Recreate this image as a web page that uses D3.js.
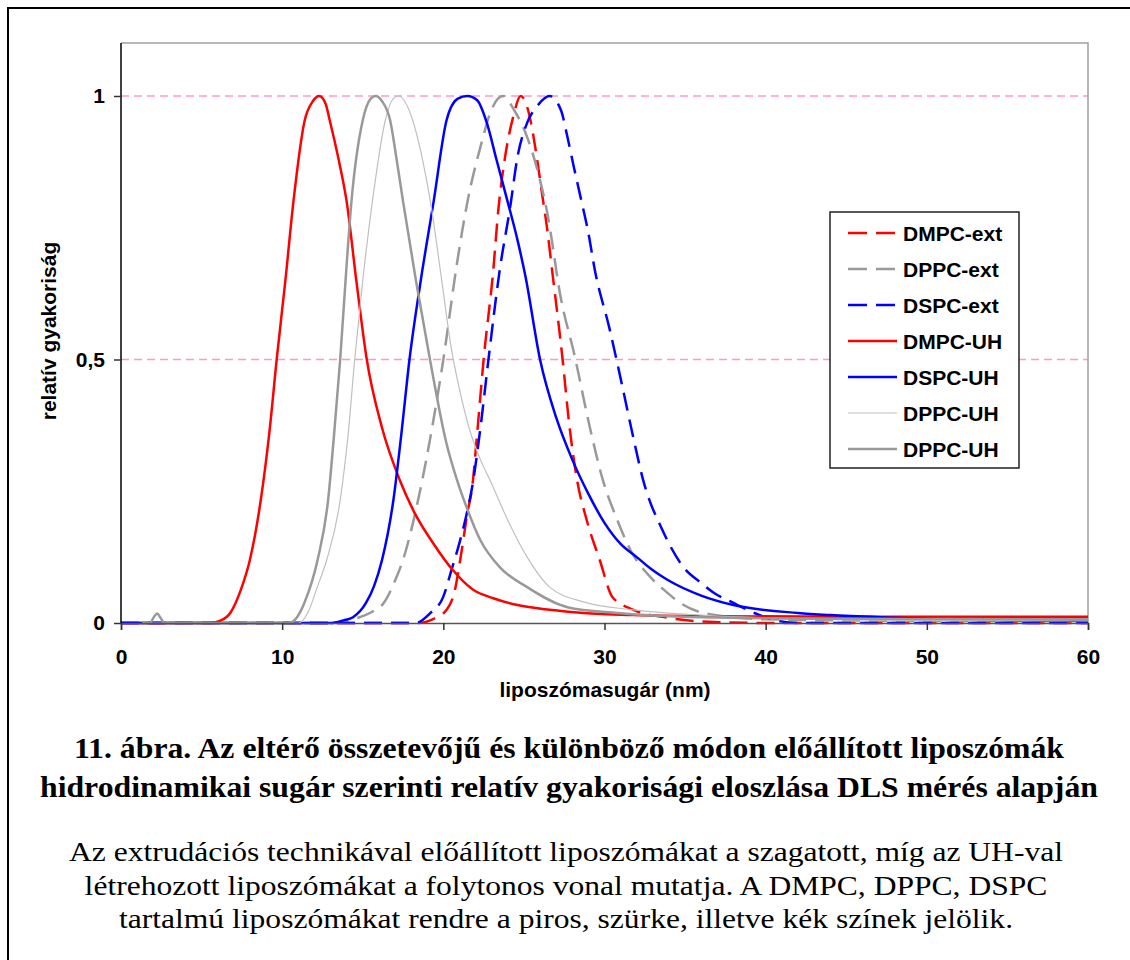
<!DOCTYPE html>
<html><head><meta charset="utf-8">
<script src="https://d3js.org/d3.v7.min.js"></script>
<style>body{margin:0;background:#fff}svg{display:block}</style>
</head><body>
<svg id="c" width="1130" height="960"></svg>
<script>
// ---- data (x = liposzómasugár nm, y = relatív gyakoriság) ----
const DMPC_ext = [[0,0],[18.4,0],[19.4,0.008],[20.2,0.025],[20.7,0.06],[21.1,0.13],[21.5,0.21],[21.8,0.26],[22.1,0.36],[22.5,0.5],[23.1,0.67],[23.4,0.78],[23.83,0.884],[24.33,0.96],[24.8,1],[25.26,0.973],[25.8,0.884],[26.1,0.82],[26.45,0.746],[26.77,0.664],[27.4,0.5],[27.8,0.38],[28.3,0.271],[28.9,0.195],[29.7,0.12],[30.5,0.049],[31.8,0.025],[33.9,0.01],[36,0.003],[40,0],[60,0]];
const DPPC_ext = [[1.3,0],[13.1,0],[14.5,0.008],[15.5,0.02],[16.3,0.038],[17.0,0.08],[17.5,0.12],[18.55,0.25],[19.3,0.37],[20.0,0.5],[20.85,0.683],[21.5,0.8],[22.3,0.903],[23.0,0.975],[23.7,1],[24.4,0.973],[25.2,0.922],[26.0,0.84],[26.45,0.778],[26.8,0.713],[27.1,0.65],[28.2,0.5],[29.1,0.37],[29.9,0.271],[30.8,0.195],[31.6,0.139],[32.85,0.087],[33.8,0.06],[34.8,0.036],[36.3,0.018],[40,0.007],[50,0.004],[60,0.004]];
const DSPC_ext = [[0,0],[18.3,0],[19.2,0.019],[20.0,0.05],[20.5,0.1],[21.0,0.152],[21.5,0.214],[21.8,0.26],[22.3,0.37],[22.8,0.5],[23.5,0.67],[24.15,0.79],[24.6,0.884],[25.2,0.949],[25.8,0.98],[26.6,1],[27.3,0.973],[27.7,0.922],[28.1,0.865],[28.5,0.81],[29.0,0.74],[29.4,0.67],[30.3,0.56],[31.1,0.45],[31.8,0.35],[32.4,0.271],[33.6,0.176],[34.9,0.106],[36,0.076],[36.8,0.057],[38,0.038],[39.3,0.019],[40.5,0.006],[42,0],[60,0]];
const DMPC_UH = [[0,0],[5.5,0],[6.2,0.005],[6.8,0.02],[7.4,0.06],[8,0.12],[8.67,0.233],[9.2,0.36],[9.66,0.5],[10.2,0.65],[10.7,0.8],[11.4,0.954],[11.9,0.99],[12.3,1],[12.7,0.985],[12.95,0.954],[13.5,0.88],[14.0,0.8],[14.6,0.65],[15.25,0.5],[16.2,0.37],[17.3,0.271],[18.2,0.21],[19.4,0.15],[20.6,0.1],[21.85,0.063],[23.1,0.047],[24.6,0.034],[26.6,0.025],[28.7,0.019],[31.8,0.015],[36,0.013],[45,0.012],[60,0.012]];
const DSPC_UH = [[0,0],[13.0,0],[13.8,0.005],[14.4,0.011],[15.2,0.038],[15.7,0.07],[16.2,0.12],[16.9,0.233],[17.4,0.36],[17.9,0.5],[18.6,0.65],[19.4,0.8],[20.2,0.954],[20.9,0.995],[21.5,1],[22.1,0.992],[22.7,0.949],[23.3,0.879],[23.96,0.803],[24.6,0.727],[25.1,0.657],[26.0,0.5],[27.0,0.39],[28.0,0.31],[29.0,0.245],[30.0,0.19],[31.0,0.15],[32.0,0.125],[33.0,0.1],[33.9,0.082],[36,0.052],[38,0.034],[42,0.019],[44,0.015],[48,0.01],[52,0.006],[60,0.004]];
const DPPC_UH_light = [[1.3,0],[11.0,0],[11.6,0.02],[12.2,0.07],[12.77,0.12],[13.6,0.233],[14.1,0.36],[14.5,0.5],[15.0,0.65],[15.6,0.8],[16.4,0.954],[16.9,0.995],[17.25,1],[17.6,0.99],[18.1,0.954],[18.75,0.873],[19.3,0.78],[19.9,0.65],[20.5,0.52],[21.1,0.43],[21.6,0.37],[22.3,0.31],[22.9,0.271],[24.0,0.195],[25.2,0.125],[26.6,0.068],[28.7,0.04],[31.8,0.025],[36,0.015],[42,0.008],[50,0.005],[60,0.004]];
const DPPC_UH_dark = [[1.3,0],[1.8,0],[2.05,0.012],[2.25,0.018],[2.45,0.01],[2.7,0],[10.4,0],[10.9,0.01],[11.4,0.04],[12.2,0.12],[12.85,0.233],[13.2,0.35],[13.6,0.5],[14.0,0.68],[14.3,0.8],[15.0,0.954],[15.5,0.995],[15.8,1],[16.2,0.99],[16.7,0.954],[17.1,0.88],[17.5,0.8],[18.3,0.65],[19.17,0.5],[20.2,0.34],[20.85,0.271],[21.5,0.215],[22.3,0.157],[23.5,0.106],[25.2,0.068],[27.7,0.03],[30.8,0.019],[36,0.011],[45,0.008],[60,0.007]];

const seriesNames = ["DMPC-ext","DPPC-ext","DSPC-ext","DMPC-UH","DSPC-UH","DPPC-UH","DPPC-UH"];
const seriesData = [DMPC_ext, DPPC_ext, DSPC_ext, DMPC_UH, DSPC_UH, DPPC_UH_light, DPPC_UH_dark];
const xTicks = [0,10,20,30,40,50,60];
const yTicks = [0,0.5,1];
const xTitle = "liposzómasugár (nm)";
const yTitle = "relatív gyakoriság";
const captionTitle = ["11. ábra. Az eltérő összetevőjű és különböző módon előállított liposzómák",
                      "hidrodinamikai sugár szerinti relatív gyakorisági eloszlása DLS mérés alapján"];
const captionBody = ["Az extrudációs technikával előállított liposzómákat a szagatott, míg az UH-val",
                     "létrehozott liposzómákat a folytonos vonal mutatja. A DMPC, DPPC, DSPC",
                     "tartalmú liposzómákat rendre a piros, szürke, illetve kék színek jelölik."];

// ---- styles / layout ----
const styles = [
  {c:"#ff0000", w:2.5, d:"18,9"},
  {c:"#999999", w:2.5, d:"18,9"},
  {c:"#0000ff", w:2.5, d:"18,9"},
  {c:"#ff0000", w:2.5, d:null},
  {c:"#0000ff", w:2.5, d:null},
  {c:"#c0c0c0", w:1.2, d:null},
  {c:"#999999", w:2.5, d:null}
];
const SANS = "Liberation Sans, Arial, sans-serif";
const SERIF = "Liberation Serif, Times New Roman, serif";

const svg = d3.select("#c");
const L=121, R=1088, T=43, B=623;
const x = d3.scaleLinear().domain([0,60]).range([L,R]);
const y = d3.scaleLinear().domain([0,1.1]).range([B, B-527*1.1]);

// outer frame
svg.append("rect").attr("x",8).attr("y",8).attr("width",1140).attr("height",970)
  .attr("fill","none").attr("stroke","#000").attr("stroke-width",2);

// gridlines
svg.append("g").selectAll("line").data([0.5,1]).join("line")
  .attr("x1",L).attr("x2",R).attr("y1",d=>y(d)).attr("y2",d=>y(d))
  .attr("stroke","#ff99cc").attr("stroke-width",1.3).attr("stroke-dasharray","8,5");

// plot border (top / right)
svg.append("path").attr("d",`M${L},${T}H${R}V${B}`).attr("fill","none").attr("stroke","#a0a0a0").attr("stroke-width",1.5);

// curves
const line = d3.line().x(d=>x(d[0])).y(d=>y(d[1])).curve(d3.curveMonotoneX);
const gC = svg.append("g");
seriesData.forEach((s,i)=>{
  gC.append("path").datum(s).attr("d",line).attr("fill","none")
    .attr("stroke",styles[i].c).attr("stroke-width",styles[i].w)
    .attr("stroke-dasharray",styles[i].d).attr("stroke-linejoin","round");
});

// axes
const xa = svg.append("g").attr("transform",`translate(0,${B})`)
  .call(d3.axisBottom(x).tickValues(xTicks).tickSize(7).tickPadding(19).tickFormat(d3.format("d")));
xa.select(".domain").attr("stroke","#555").attr("stroke-width",1.5);
xa.selectAll(".tick line").attr("stroke","#333").attr("stroke-width",1.5);
xa.selectAll("text").attr("font-family",SANS).attr("font-weight","bold").attr("font-size",21).attr("fill","#000");

const ya = svg.append("g").attr("transform",`translate(${L},0)`)
  .call(d3.axisLeft(y).tickValues(yTicks).tickSize(7).tickPadding(9).tickFormat(d=>String(d).replace(".",",")));
ya.select(".domain").attr("d",`M0,${B}V${T}`).attr("stroke","#000").attr("stroke-width",1.5);
ya.selectAll(".tick line").attr("stroke","#333").attr("stroke-width",1.5);
ya.selectAll("text").attr("font-family",SANS).attr("font-weight","bold").attr("font-size",21).attr("fill","#000");

// axis titles
svg.append("text").attr("x",605).attr("y",697).attr("text-anchor","middle")
  .attr("font-family",SANS).attr("font-weight","bold").attr("font-size",21).text(xTitle);
svg.append("text").attr("transform",`translate(56,331) rotate(-90)`).attr("text-anchor","middle")
  .attr("font-family",SANS).attr("font-weight","bold").attr("font-size",21).text(yTitle);

// legend
const lg = svg.append("g");
lg.append("rect").attr("x",830).attr("y",212).attr("width",189).attr("height",256)
  .attr("fill","#fff").attr("stroke","#222").attr("stroke-width",1.5);
seriesNames.forEach((n,i)=>{
  const yy = 233 + i*36;
  lg.append("line").attr("x1",848).attr("x2",897).attr("y1",yy).attr("y2",yy)
    .attr("stroke",styles[i].c).attr("stroke-width",styles[i].w).attr("stroke-dasharray",styles[i].d?"19,9":null);
  lg.append("text").attr("x",903).attr("y",yy+7.5).attr("font-family",SANS)
    .attr("font-weight","bold").attr("font-size",21).text(n);
});

// captions: uniform horizontal stretch per block, matched to first line width
function block(lines, opts){
  const nodes = lines.map((t,i)=> svg.append("text").attr("x",opts.cx).attr("y",opts.y0+i*opts.dy)
      .attr("text-anchor","middle").attr("font-family",SERIF).attr("font-weight",opts.bold?"bold":"normal")
      .attr("font-size",opts.size).text(t));
  const nat = nodes.map(n=>n.node().getComputedTextLength());
  const f = opts.w0 / nat[0];
  nodes.forEach((n,i)=> n.attr("textLength", nat[i]*f).attr("lengthAdjust","spacingAndGlyphs"));
}
block(captionTitle, {cx:569, y0:758, dy:39, size:30, bold:true, w0:990});
block(captionBody, {cx:566, y0:861, dy:33.5, size:28, bold:false, w0:994});
</script>
</body></html>
